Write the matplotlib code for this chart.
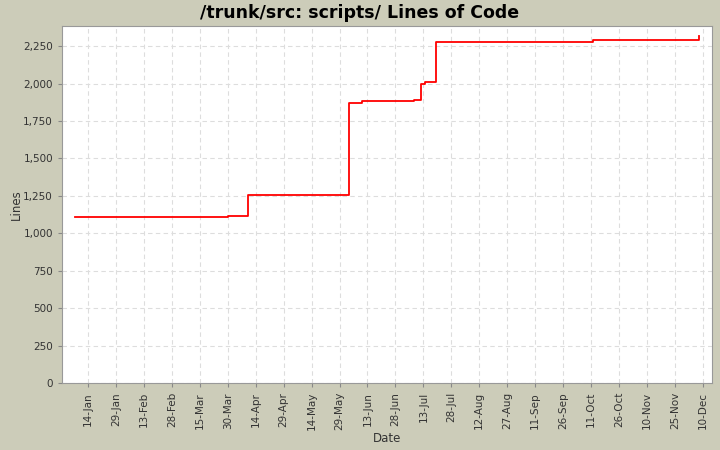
import pandas as pd
import matplotlib
matplotlib.use("Agg")
import matplotlib.pyplot as plt
import matplotlib.dates as mdates
from matplotlib.ticker import FuncFormatter, MultipleLocator

# step data: date of each change and the line count after it
dates = ["2007-01-07", "2007-03-30", "2007-04-10", "2007-06-03", "2007-06-10",
         "2007-07-08", "2007-07-12", "2007-07-14", "2007-07-20", "2007-10-12",
         "2007-12-08"]
lines = [1106, 1113, 1253, 1869, 1887, 1893, 2000, 2013, 2281, 2294, 2316]

tick_dates = pd.date_range("2007-01-14", periods=23, freq="15D")

bg = "#CCCCB9"
fig = plt.figure(figsize=(7.2, 4.5), dpi=100, facecolor=bg)
ax = fig.add_axes([0.0861, 0.1489, 0.9028, 0.7933])
ax.set_facecolor("white")

x = pd.to_datetime(dates)
ax.step(x, lines, where="post", color="red", linewidth=1.3)

ax.set_xlim(pd.Timestamp("2006-12-31"), pd.Timestamp("2007-12-15"))
ax.set_ylim(0, 2385)

ax.set_xticks(tick_dates)
ax.xaxis.set_major_formatter(mdates.DateFormatter("%d-%b"))
ax.yaxis.set_major_locator(MultipleLocator(250))
ax.yaxis.set_major_formatter(FuncFormatter(lambda v, p: f"{int(v):,}"))

ax.tick_params(axis="x", rotation=90, labelsize=7.5, length=3, color="#888888")
ax.tick_params(axis="y", labelsize=7.5, length=3, color="#888888")
for lbl in ax.get_xticklabels() + ax.get_yticklabels():
    lbl.set_color("#333333")

ax.grid(True, color="#dddddd", linestyle=(0, (4, 3)), linewidth=0.8)
for s in ax.spines.values():
    s.set_color("#999999")

ax.set_xlabel("Date", fontsize=8.5, color="#333333", labelpad=1)
ax.set_ylabel("Lines", fontsize=8.5, color="#333333", labelpad=0)
fig.suptitle("/trunk/src: scripts/ Lines of Code", fontsize=12.5,
             fontweight="bold", y=0.99, va="top")

fig.savefig("out.png", dpi=100, facecolor=bg)
